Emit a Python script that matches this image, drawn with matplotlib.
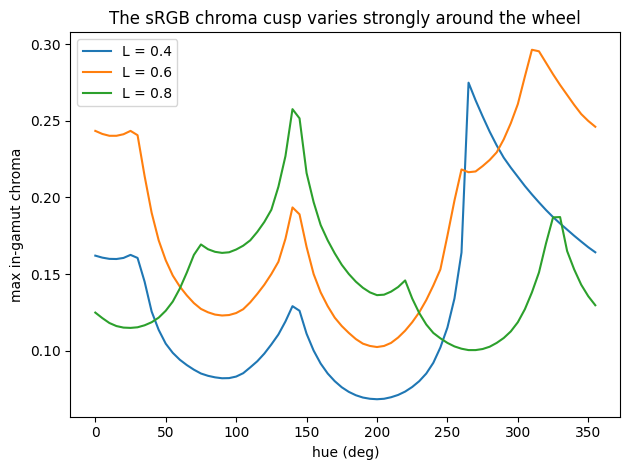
import numpy as np
import matplotlib
matplotlib.use("Agg")
import matplotlib.pyplot as plt

hue = list(range(0, 360, 5))

chroma_L04 = [
    0.1620, 0.1607, 0.1599, 0.1598, 0.1605, 0.1625, 0.1605, 0.1450, 0.1255, 0.1135,
    0.1045, 0.0985, 0.0940, 0.0905, 0.0875, 0.0850, 0.0835, 0.0825, 0.0819, 0.0820,
    0.0830, 0.0852, 0.0890, 0.0930, 0.0980, 0.1040, 0.1105, 0.1190, 0.1290, 0.1260,
    0.1110, 0.1000, 0.0915, 0.0850, 0.0800, 0.0760, 0.0730, 0.0708, 0.0693, 0.0685,
    0.0682, 0.0685, 0.0695, 0.0710, 0.0732, 0.0762, 0.0800, 0.0850, 0.0920, 0.1020,
    0.1150, 0.1340, 0.1640, 0.2750, 0.2635, 0.2530, 0.2430, 0.2340, 0.2260, 0.2195,
    0.2135, 0.2075, 0.2020, 0.1968, 0.1918, 0.1872, 0.1830, 0.1790, 0.1750, 0.1712,
    0.1675, 0.1642,
]

chroma_L06 = [
    0.2435, 0.2415, 0.2403, 0.2403, 0.2413, 0.2435, 0.2407, 0.2140, 0.1900, 0.1720,
    0.1590, 0.1490, 0.1418, 0.1360, 0.1310, 0.1272, 0.1250, 0.1235, 0.1229, 0.1232,
    0.1245, 0.1270, 0.1315, 0.1370, 0.1430, 0.1500, 0.1580, 0.1730, 0.1935, 0.1890,
    0.1677, 0.1500, 0.1380, 0.1290, 0.1215, 0.1160, 0.1115, 0.1075, 0.1045, 0.1030,
    0.1023, 0.1030, 0.1050, 0.1085, 0.1130, 0.1185, 0.1250, 0.1330, 0.1425, 0.1530,
    0.1750, 0.1980, 0.2183, 0.2165, 0.2170, 0.2205, 0.2245, 0.2295, 0.2380, 0.2485,
    0.2610, 0.2790, 0.2965, 0.2955, 0.2880, 0.2805, 0.2735, 0.2670, 0.2605, 0.2545,
    0.2500, 0.2462,
]

chroma_L08 = [
    0.1248, 0.1212, 0.1180, 0.1160, 0.1150, 0.1148, 0.1152, 0.1165, 0.1185, 0.1215,
    0.1260, 0.1320, 0.1405, 0.1510, 0.1625, 0.1693, 0.1662, 0.1645, 0.1638, 0.1642,
    0.1660, 0.1685, 0.1720, 0.1775, 0.1840, 0.1920, 0.2070, 0.2270, 0.2577, 0.2517,
    0.2160, 0.1970, 0.1820, 0.1720, 0.1635, 0.1560, 0.1500, 0.1450, 0.1410, 0.1380,
    0.1362, 0.1365, 0.1385, 0.1415, 0.1458, 0.1340, 0.1245, 0.1170, 0.1115, 0.1080,
    0.1050, 0.1027, 0.1012, 0.1003, 0.1003, 0.1010, 0.1025, 0.1050, 0.1082, 0.1125,
    0.1185, 0.1270, 0.1380, 0.1510, 0.1700, 0.1870, 0.1872, 0.1650, 0.1530, 0.1430,
    0.1355, 0.1296,
]

labels = ["L = 0.4", "L = 0.6", "L = 0.8"]

fig, ax = plt.subplots(figsize=(6.3, 4.7), dpi=100)
for vals, lab in zip([chroma_L04, chroma_L06, chroma_L08], labels):
    ax.plot(hue, vals, label=lab)
ax.set_title("The sRGB chroma cusp varies strongly around the wheel")
ax.set_xlabel("hue (deg)")
ax.set_ylabel("max in-gamut chroma")
ax.legend(loc="upper left")
fig.subplots_adjust(left=0.1116, right=0.9846, top=0.9313, bottom=0.1134)
fig.savefig("out.png")
